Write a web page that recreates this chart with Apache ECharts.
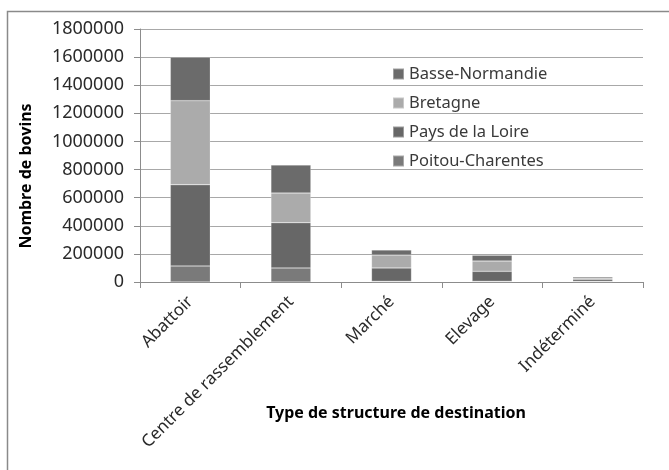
<!DOCTYPE html>
<html>
<head>
<meta charset="utf-8">
<script src="https://cdn.jsdelivr.net/npm/echarts@6/dist/echarts.min.js"></script>
<style>
  html, body { margin: 0; padding: 0; background: #fff; }
  #chart { width: 669px; height: 470px; }
</style>
</head>
<body>
<div id="chart"></div>
<script>
// Destination structure types (x axis)
const categories = ['Abattoir', 'Centre de rassemblement', 'Marché', 'Elevage', 'Indéterminé'];

// Number of cattle per region of origin, stacked from the bottom up
const poitouCharentes = [114000, 100000, 5000, 5000, 5000];
const paysDeLaLoire   = [578000, 322000, 95000, 71000, 15000];
const bretagne        = [598000, 211000, 92000, 73000, 8000];
const basseNormandie  = [310000, 199000, 36000, 42000, 10000];

// Y axis range and step
const yMin = 0;
const yMax = 1800000;
const yStep = 200000;

const FONT = '"Noto Sans", "DejaVu Sans", sans-serif';

const chart = echarts.init(document.getElementById('chart'), null, { renderer: 'canvas' });

function stackSeries(name, data, color) {
  return {
    name: name,
    type: 'bar',
    stack: 'total',
    barWidth: 40,
    data: data,
    itemStyle: { color: color, borderColor: 'rgba(255,255,255,0.35)', borderWidth: 0.6 },
    emphasis: { disabled: true }
  };
}

chart.setOption({
  animation: false,
  backgroundColor: '#ffffff',
  textStyle: { fontFamily: FONT },
  grid: { left: 140, right: 26, top: 29, bottom: 188, containLabel: false },
  legend: {
    orient: 'vertical',
    left: 387,
    top: 59,
    itemWidth: 11,
    itemHeight: 11,
    itemGap: 9,
    icon: 'rect',
    selectedMode: false,
    data: ['Basse-Normandie', 'Bretagne', 'Pays de la Loire', 'Poitou-Charentes'],
    textStyle: { fontFamily: FONT, fontSize: 16.5, color: '#3a3a3a', lineHeight: 20 }
  },
  xAxis: {
    type: 'category',
    data: categories,
    boundaryGap: true,
    axisLine: { lineStyle: { color: '#8c8c8c', width: 1 } },
    axisTick: { show: true, alignWithLabel: false, length: 6, lineStyle: { color: '#8c8c8c' } },
    axisLabel: {
      interval: 0,
      rotate: 45,
      margin: 17,
      fontFamily: FONT,
      fontSize: 17,
      color: '#2a2a2a'
    }
  },
  yAxis: {
    type: 'value',
    min: yMin,
    max: yMax,
    interval: yStep,
    axisLine: { show: true, lineStyle: { color: '#8c8c8c', width: 1 } },
    axisTick: { show: true, length: 6, lineStyle: { color: '#8c8c8c' } },
    splitLine: { show: true, lineStyle: { color: '#a8a8a8', width: 1 } },
    axisLabel: {
      margin: 16,
      fontFamily: FONT,
      fontSize: 18,
      color: '#2a2a2a',
      formatter: function (v) { return String(v); }
    }
  },
  graphic: [
    {
      type: 'rect',
      shape: { x: 7.5, y: 11.5, width: 800, height: 600 },
      style: { fill: 'none', stroke: '#8a8a8a', lineWidth: 1.5 },
      silent: true,
      z: 0
    },
    {
      type: 'text',
      x: 26,
      y: 176,
      rotation: Math.PI / 2,
      style: {
        text: 'Nombre de bovins',
        fontFamily: FONT,
        fontSize: 16,
        fontWeight: 'bold',
        fill: '#000',
        textAlign: 'center',
        textVerticalAlign: 'middle'
      }
    },
    {
      type: 'text',
      x: 396,
      y: 413,
      style: {
        text: 'Type de structure de destination',
        fontFamily: FONT,
        fontSize: 16,
        fontWeight: 'bold',
        fill: '#000',
        textAlign: 'center',
        textVerticalAlign: 'middle'
      }
    }
  ],
  series: [
    stackSeries('Poitou-Charentes', poitouCharentes, '#7a7a7a'),
    stackSeries('Pays de la Loire', paysDeLaLoire, '#676767'),
    stackSeries('Bretagne', bretagne, '#ababab'),
    stackSeries('Basse-Normandie', basseNormandie, '#6b6b6b')
  ]
});
</script>
</body>
</html>
